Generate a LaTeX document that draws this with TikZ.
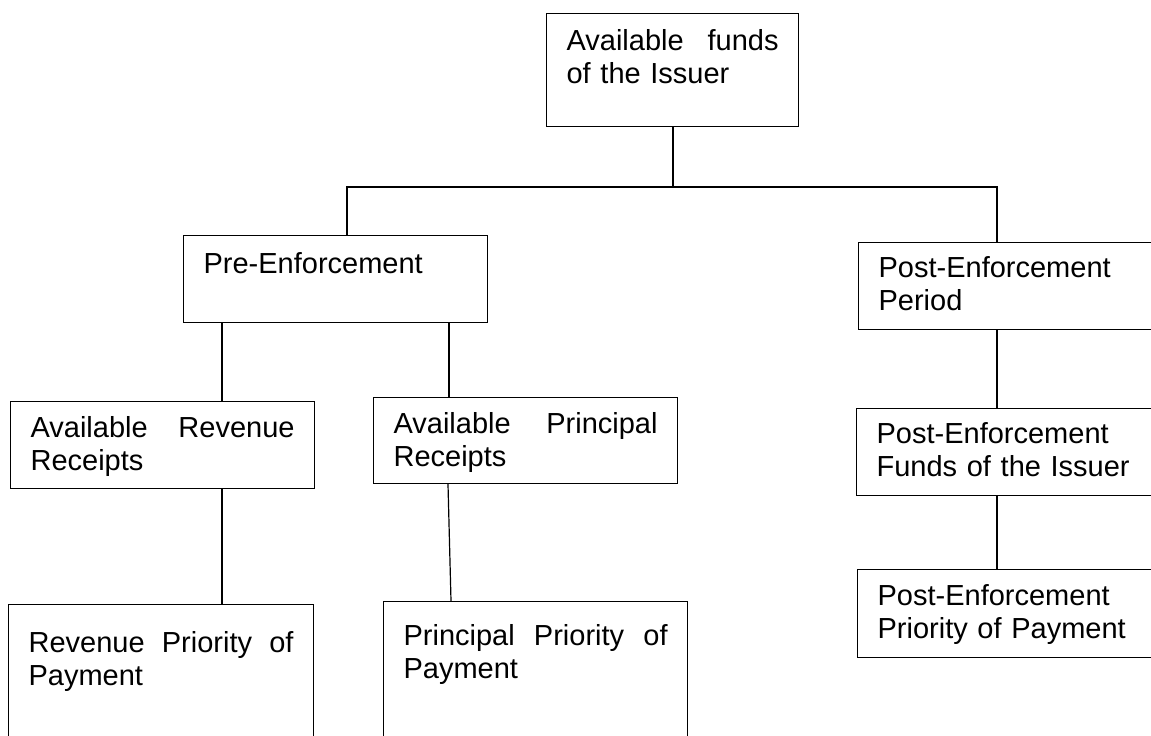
\documentclass[tikz,border=0pt]{standalone}
\usepackage{fontspec}
\setmainfont{Liberation Sans}
\begin{document}
\begin{tikzpicture}[x=0.5pt,y=-0.5pt]

      \tikzset{box/.style={draw, line width=0.6pt, anchor=north west, align=left, inner xsep=10pt, inner ysep=0pt, text height=18pt, font=\fontsize{14.5}{16.6}\selectfont}}
      \tikzset{link/.style={line width=0.6pt}}
      \useasboundingbox (0,0) rectangle (1151,735);
      \clip (0,0) rectangle (1151,735);
% Boxes
	%Top
      	\node[box, text width=106pt, text height=18.5pt, text depth=38pt] (avail) at (546,13) {Available\hfill funds\\of the Issuer};

	%Pre-Enforcement
      	\node[box, text width=132pt, text height=19pt, text depth=24.5pt] (pre) at (183,235) {Pre-Enforcement};
      	\node[box, text width=132pt, text depth=25.5pt] (rev) at (10,401) {Available\hfill Revenue\\Receipts};
      	\node[box, text width=132pt, text depth=25pt] (prin) at (373,397) {Available\hfill Principal\\Receipts};
      	\node[box, text width=132.5pt, text height=24pt, text depth=100pt] (revprio) at (8,604) {Revenue\hfill Priority\hfill of\\Payment};
      	\node[box, text width=132pt, text height=22pt, text depth=100pt] (prinprio) at (383,601) {Principal\hfill Priority\hfill of\\Payment};

	%Post-Enforcement
      	\node[box, text width=160pt, text height=17.5pt, text depth=26pt] (period) at (858,242) {Post-Enforcement\\Period};
      	\node[box, text width=160pt, text height=17.5pt, text depth=26pt] (postfunds) at (856,408) {Post-Enforcement\\Funds of the Issuer};
      	\node[box, text width=160pt, text depth=26pt] (postprio) at (857,569) {Post-Enforcement\\Priority of Payment};

%Connectors
      	\coordinate (split) at (673,187);
		\draw[link] (avail.south -| split) -- (split);
		\draw[link] (pre.north -| 347,0) |- (split) -| (period.north -| 997,0);

	%Pre-Enforcement
		\draw[link] (pre.south -| 222,0) -- (rev.north -| 222,0);
		\draw[link] (pre.south -| 449,0) -- (prin.north -| 449,0);
		\draw[link] (rev.south -| 222,0) -- (revprio.north -| 222,0);
		\draw[link] (prin.south -| 448,0) -- (prinprio.north -| 451,0);

	%Post-Enforcement
		\draw[link] (period.south -| 997,0) -- (postfunds.north -| 997,0);
		\draw[link] (postfunds.south -| 997,0) -- (postprio.north -| 997,0);

\end{tikzpicture}
\end{document}
